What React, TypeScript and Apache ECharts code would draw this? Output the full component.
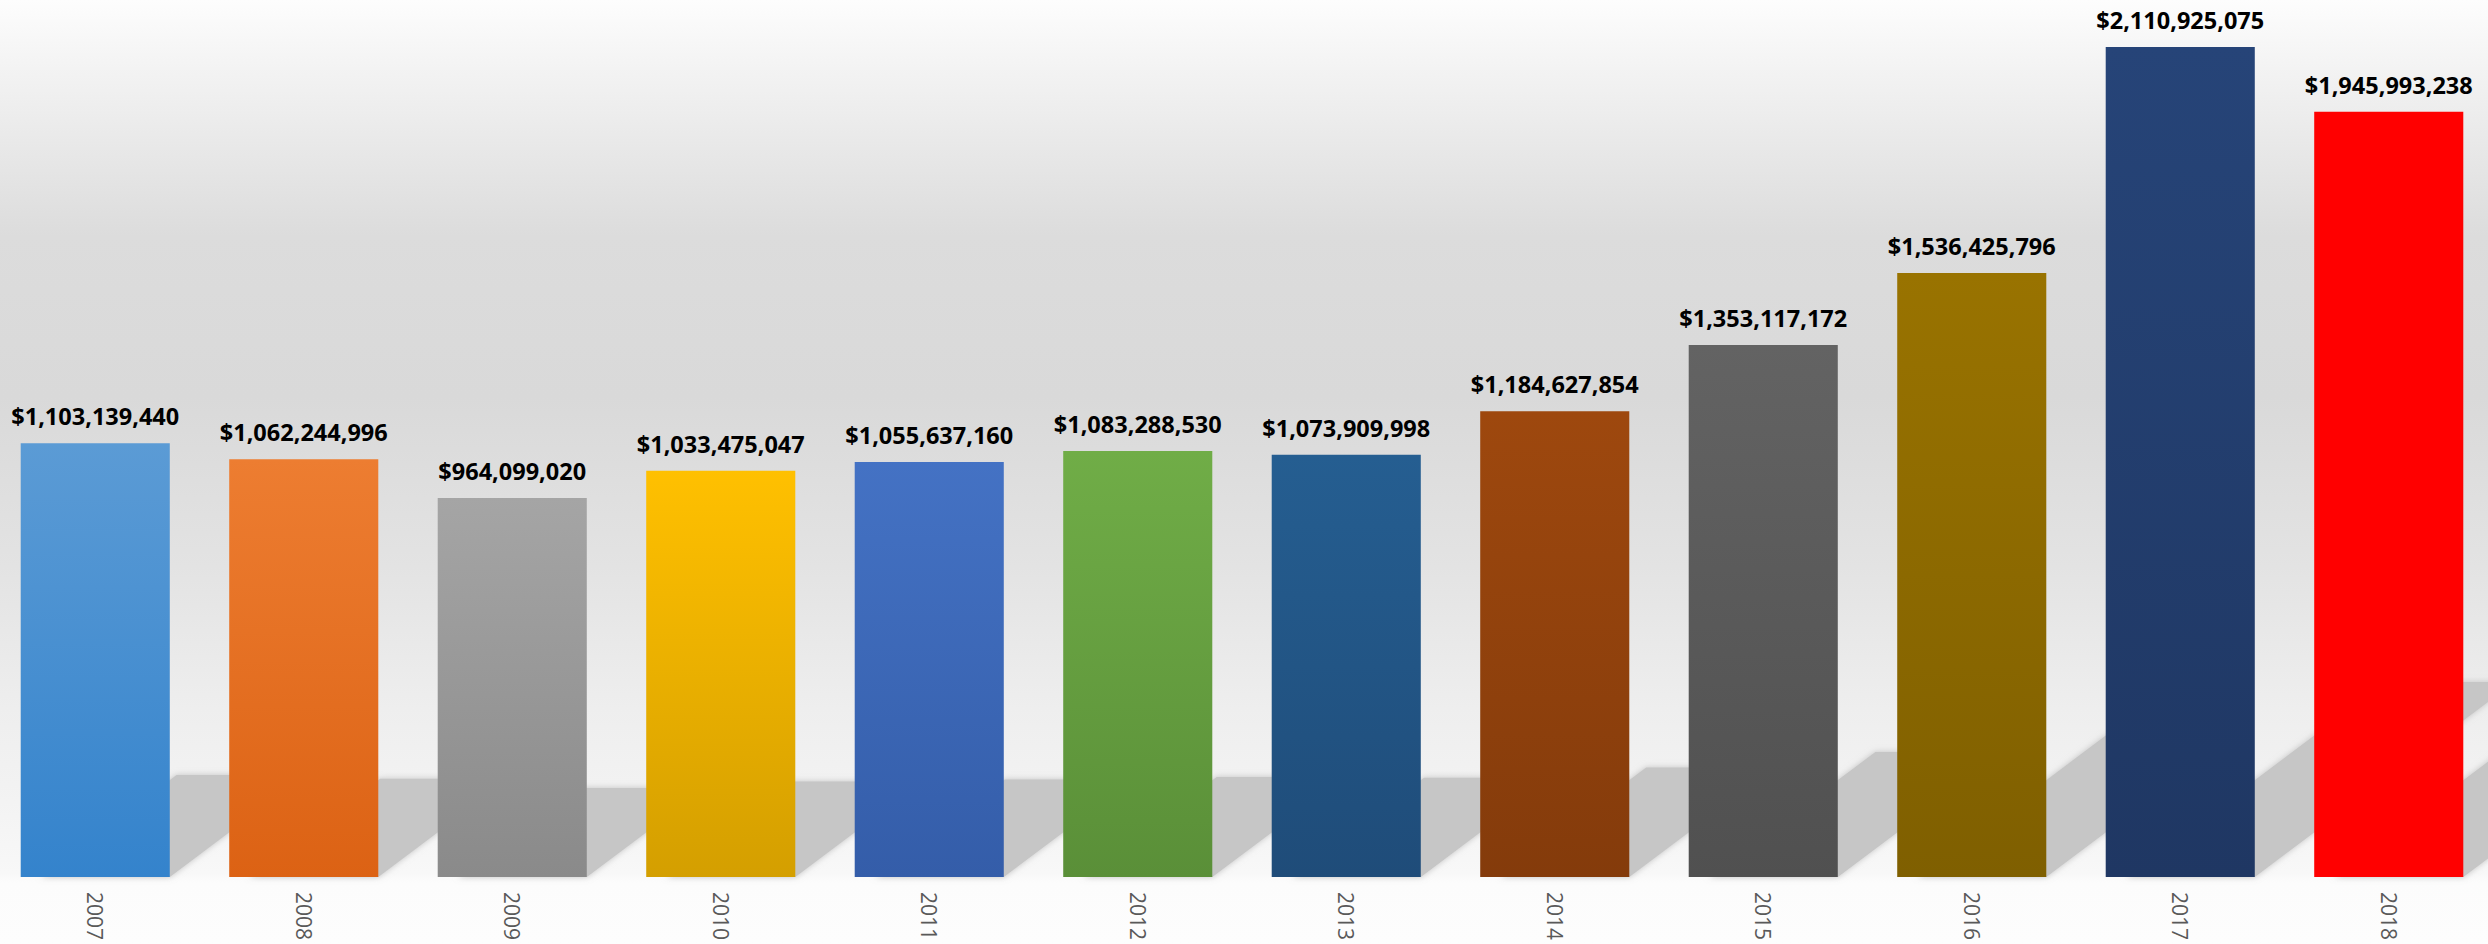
import React, { useEffect, useRef } from "react";
import * as echarts from "echarts";

const years = ["2007", "2008", "2009", "2010", "2011", "2012", "2013", "2014", "2015", "2016", "2017", "2018"];
const totals = [1103139440, 1062244996, 964099020, 1033475047, 1055637160, 1083288530, 1073909998, 1184627854, 1353117172, 1536425796, 2110925075, 1945993238];
const topColors = ["#5B9BD5", "#ED7D31", "#A5A5A5", "#FFC000", "#4472C4", "#70AD47", "#255E91", "#9E480E", "#636363", "#997300", "#264478", "#FF0000"];
const bottomColors = ["#3483CC", "#DC6214", "#8A8A8A", "#D49F00", "#345DA9", "#5A8F38", "#1F4C79", "#843B0B", "#505050", "#7F5F00", "#1F3763", "#FF0000"];

const W = 2488;
const H = 944;
const OFF_L = 9;
const CW = 2502;

export default function App() {
  const ref = useRef<HTMLDivElement>(null);
  useEffect(() => {
    if (!ref.current) return;
    const chart = echarts.init(ref.current, undefined, { renderer: "svg" });
    const bgGrad = new echarts.graphic.LinearGradient(0, 0, 0, 1, [
      { offset: 0, color: "#fdfdfd" },
      { offset: 0.08, color: "#f2f2f2" },
      { offset: 0.25, color: "#dcdcdc" },
      { offset: 0.42, color: "#d9d9d9" },
      { offset: 0.6, color: "#e3e3e3" },
      { offset: 0.75, color: "#eeeeee" },
      { offset: 0.85, color: "#f3f3f3" },
      { offset: 0.925, color: "#f8f8f8" },
      { offset: 0.935, color: "#fcfcfc" },
      { offset: 1, color: "#fdfdfd" },
    ]);
    const barWidthRatio = 0.715;
    chart.setOption({
      animation: false,
      graphic: [
        {
          type: "rect",
          z: -100,
          silent: true,
          shape: { x: 0, y: 0, width: CW, height: H },
          style: { fill: bgGrad },
        },
      ],
      grid: { left: 0, right: 0, top: 12, bottom: 67, containLabel: false },
      xAxis: {
        type: "category",
        data: years,
        axisLine: { show: false },
        axisTick: { show: false },
        splitLine: { show: false },
        axisLabel: {
          rotate: -90,
          margin: 15,
          color: "#595959",
          fontFamily: "Open Sans",
          fontSize: 21,
        },
      },
      yAxis: {
        type: "value",
        min: 0,
        max: 2200000000,
        show: false,
        splitLine: { show: false },
      },
      series: [
        {
          type: "custom",
          z: 1,
          silent: true,
          clip: false,
          data: totals.map((v, i) => [i, v]),
          encode: { x: 0, y: 1 },
          renderItem: (params: any, api: any) => {
            const i = api.value(0);
            const v = api.value(1);
            const base = api.coord([i, 0]);
            const top = api.coord([i, v]);
            const band = api.size([1, 0])[0];
            const half = (band * barWidthRatio) / 2;
            const L = base[0] - half;
            const R = base[0] + half;
            const y0 = base[1];
            const bh = y0 - top[1];
            const sh = 0.235 * bh;
            const dx = sh / 0.75;
            return {
              type: "polygon",
              shape: {
                points: [
                  [L + 20, y0],
                  [R, y0],
                  [R + dx, y0 - sh],
                  [L + 20 + dx, y0 - sh],
                ],
              },
              style: {
                fill: "#c6c6c6",
                shadowBlur: 6,
                shadowColor: "rgba(190,190,190,0.9)",
              },
            };
          },
        },
        {
          type: "bar",
          z: 2,
          barWidth: "71.5%",
          data: totals.map((v, i) => ({
            value: v,
            itemStyle: {
              color: new echarts.graphic.LinearGradient(0, 0, 0, 1, [
                { offset: 0, color: topColors[i] },
                { offset: 1, color: bottomColors[i] },
              ]),
            },
          })),
          label: {
            show: true,
            position: "top",
            distance: 15,
            color: "#000000",
            fontFamily: "Open Sans",
            fontWeight: "bold",
            fontSize: 23.5,
            formatter: (p: any) => "$" + Number(p.value).toLocaleString("en-US"),
          },
        },
      ],
    });
    return () => chart.dispose();
  }, []);
  return (
    <div
      style={{ position: "fixed", left: 0, top: 0, width: W, height: H, overflow: "hidden", background: "#fdfdfd" }}
    >
      <div
        ref={ref}
        style={{ position: "absolute", left: -OFF_L, top: 0, width: CW, height: H }}
      />
    </div>
  );
}
